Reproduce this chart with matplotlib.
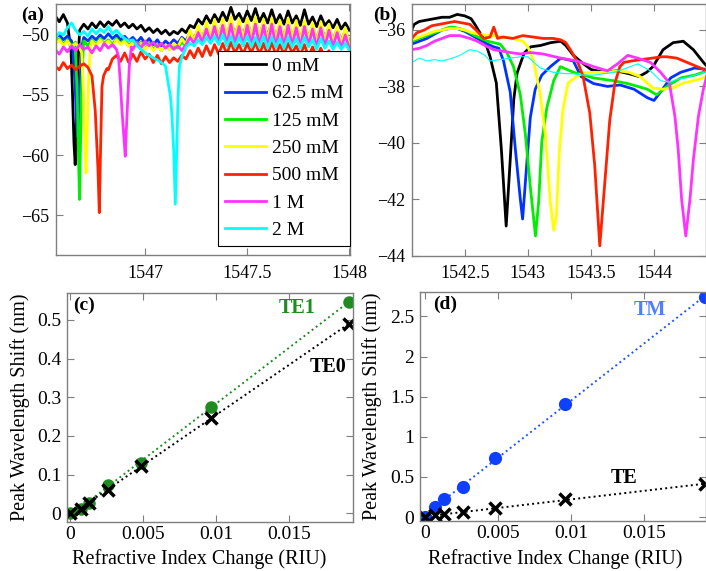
import numpy as np
import matplotlib
matplotlib.use('Agg')
import matplotlib.pyplot as plt

plt.rcParams['font.family'] = ['Liberation Serif', 'DejaVu Serif']

# ---------------- DATA ---------------- #
conc_labels = ['0 mM', '62.5 mM', '125 mM', '250 mM', '500 mM', '1 M', '2 M']
line_colors = ['#000000', '#0033ff', '#00ee00', '#ffff00', '#ff2200', '#ff33ff', '#00ffff']

# (a) TE0 spectra: baseline sampled every 0.02 nm, plus the resonance dip points
a_wl = np.linspace(1546.56, 1548.0, 73)
a_black = [-48.4, -48.9, -48.3, -49.0, -49.4, -49.5, -49.6, -49.1, -49.5, -49.0,
           -49.4, -48.9, -49.3, -48.9, -49.2, -48.8, -49.3, -49.0, -49.4, -49.1,
           -49.5, -49.2, -49.7, -49.4, -49.8, -49.5, -49.9, -49.6, -50.0, -49.7,
           -49.9, -49.5, -49.8, -49.2, -49.4, -48.7, -49.1, -48.4, -49.0, -48.3,
           -48.9, -48.1, -48.8, -47.7, -48.7, -48.2, -48.9, -48.0, -48.8, -47.8,
           -48.9, -48.2, -49.0, -47.9, -49.0, -48.3, -49.1, -48.0, -49.0, -48.4,
           -49.2, -47.9, -49.1, -48.5, -49.3, -48.4, -49.2, -48.8, -49.4, -48.7,
           -49.5, -49.0, -49.6]
a_blue = [-50.2, -50.0, -50.4, -50.1, -50.5, -50.3, -50.6, -50.2, -50.5, -50.1,
          -50.4, -50.0, -50.3, -49.9, -50.3, -50.0, -50.4, -50.1, -50.5, -50.2,
          -50.6, -50.2, -50.7, -50.3, -50.8, -50.4, -50.9, -50.5, -50.8, -50.4,
          -50.7, -50.2, -50.5, -49.8, -50.3, -49.5, -50.2, -49.3, -50.1, -49.2,
          -50.0, -49.0, -50.0, -48.9, -49.9, -49.1, -50.0, -48.9, -50.0, -49.0,
          -50.1, -49.0, -50.1, -48.9, -50.2, -49.1, -50.2, -49.0, -50.1, -49.2,
          -50.3, -49.1, -50.2, -49.3, -50.4, -49.2, -50.3, -49.4, -50.4, -49.5,
          -50.5, -49.6, -50.6]
a_green = [-50.6, -50.3, -50.8, -50.4, -50.9, -50.6, -51.0, -50.5, -50.9, -50.4,
           -50.8, -50.3, -50.7, -50.4, -50.8, -50.3, -50.7, -50.4, -50.9, -50.5,
           -50.9, -50.6, -51.1, -50.7, -51.2, -50.8, -51.3, -50.9, -51.2, -50.8,
           -51.1, -50.6, -50.9, -50.1, -50.6, -49.7, -50.5, -49.5, -50.4, -49.4,
           -50.4, -49.2, -50.3, -49.1, -50.3, -49.3, -50.4, -49.2, -50.3, -49.3,
           -50.4, -49.2, -50.5, -49.1, -50.5, -49.3, -50.5, -49.2, -50.4, -49.4,
           -50.6, -49.3, -50.5, -49.5, -50.7, -49.4, -50.6, -49.6, -50.7, -49.7,
           -50.8, -49.8, -50.9]
a_yellow = [-50.8, -50.4, -50.9, -50.5, -51.0, -50.7, -51.1, -50.6, -51.0, -50.5,
            -50.9, -50.4, -50.8, -50.5, -50.9, -50.4, -50.8, -50.5, -51.0, -50.6,
            -51.0, -50.7, -51.2, -50.8, -51.3, -50.9, -51.3, -50.9, -51.2, -50.7,
            -51.0, -50.3, -50.8, -49.6, -50.5, -49.2, -50.4, -48.9, -50.3, -48.7,
            -50.3, -48.6, -50.2, -48.5, -50.2, -48.7, -50.3, -48.6, -50.2, -48.5,
            -50.3, -48.7, -50.4, -48.6, -50.4, -48.8, -50.4, -48.6, -50.3, -48.8,
            -50.5, -48.8, -50.4, -49.0, -50.6, -48.9, -50.5, -49.1, -50.6, -49.3,
            -50.7, -49.4, -50.8]
a_red = [-52.6, -52.9, -52.3, -52.8, -52.5, -52.9, -52.6, -52.4, -52.7, -52.6,
         -52.6, -52.7, -53.5, -52.9, -52.0, -51.7, -52.2, -51.5, -52.3, -51.6,
         -52.2, -51.4, -52.0, -51.6, -52.3, -51.7, -52.4, -51.8, -52.3, -51.9,
         -52.2, -51.7, -52.0, -51.3, -51.9, -51.1, -51.8, -50.9, -51.7, -50.8,
         -51.6, -50.7, -51.6, -50.6, -51.5, -50.8, -51.6, -50.7, -51.5, -50.6,
         -51.6, -50.7, -51.7, -50.6, -51.7, -50.8, -51.6, -50.7, -51.5, -50.9,
         -51.7, -50.8, -51.8, -51.0, -51.9, -51.1, -52.0, -51.3, -52.1, -51.5,
         -52.4, -52.0, -52.8]
a_magenta = [-51.2, -51.6, -51.0, -51.4, -50.9, -51.3, -50.8, -51.2, -51.0, -51.5,
             -50.9, -51.3, -50.7, -51.1, -50.8, -51.2, -51.0, -51.4, -50.8, -51.2,
             -50.6, -51.1, -50.5, -50.9, -50.6, -51.0, -50.7, -51.1, -50.8, -51.2,
             -50.9, -51.3, -50.8, -50.2, -50.7, -49.8, -50.6, -49.5, -50.6, -49.3,
             -50.7, -49.2, -50.8, -49.1, -50.8, -49.3, -50.9, -49.2, -50.8, -49.1,
             -50.9, -49.2, -51.0, -49.1, -51.0, -49.3, -51.0, -49.2, -50.9, -49.4,
             -51.0, -49.3, -50.9, -49.5, -51.1, -49.4, -51.0, -49.6, -51.0, -49.8,
             -51.1, -50.0, -51.2]
a_cyan = [-50.3, -49.8, -50.0, -49.4, -49.0, -49.6, -50.0, -49.7, -50.1, -49.5,
          -49.9, -49.5, -49.8, -49.3, -49.9, -49.6, -50.0, -50.3, -50.5, -50.4,
          -50.9, -51.2, -51.5, -51.7, -51.9, -52.1, -52.3, -52.5, -52.5, -52.5,
          -51.0, -50.9, -51.0, -50.7, -50.9, -50.4, -50.8, -50.2, -50.7, -50.1,
          -50.8, -50.0, -50.9, -50.1, -51.0, -50.2, -50.9, -50.1, -51.0, -50.2,
          -51.0, -50.1, -51.1, -50.2, -51.0, -50.3, -51.1, -50.2, -51.0, -50.3,
          -51.1, -50.2, -51.0, -50.4, -51.2, -50.3, -51.1, -50.5, -51.2, -50.6,
          -51.2, -50.7, -51.3]

a_dip_black_x = [1546.638, 1546.645, 1546.652, 1546.658, 1546.664, 1546.670, 1546.678]
a_dip_black_y = [-51.5, -55.0, -59.0, -60.8, -57.0, -53.0, -50.2]
a_dip_blue_x = [1546.648, 1546.657, 1546.664, 1546.670, 1546.678, 1546.690]
a_dip_blue_y = [-51.5, -54.0, -57.0, -58.5, -55.0, -51.0]
a_dip_green_x = [1546.660, 1546.668, 1546.674, 1546.679, 1546.684, 1546.690, 1546.698]
a_dip_green_y = [-51.5, -55.0, -60.0, -63.7, -59.0, -54.0, -51.0]
a_dip_yellow_x = [1546.690, 1546.698, 1546.705, 1546.711, 1546.717, 1546.724, 1546.732]
a_dip_yellow_y = [-51.5, -54.5, -59.0, -61.5, -58.0, -53.5, -51.0]
a_dip_red_x = [1546.740, 1546.756, 1546.769, 1546.776, 1546.782, 1546.789, 1546.797, 1546.813]
a_dip_red_y = [-53.4, -56.3, -61.0, -64.8, -59.6, -54.3, -53.4, -52.8]
a_dip_magenta_x = [1546.870, 1546.879, 1546.887, 1546.895, 1546.903, 1546.908, 1546.915, 1546.923, 1546.933]
a_dip_magenta_y = [-51.8, -54.0, -56.3, -58.2, -60.1, -58.0, -55.4, -52.6, -51.0]
a_dip_cyan_x = [1547.100, 1547.116, 1547.124, 1547.132, 1547.140, 1547.148, 1547.155, 1547.161, 1547.168, 1547.181, 1547.197]
a_dip_cyan_y = [-52.6, -54.3, -55.1, -56.8, -59.6, -64.1, -59.6, -55.4, -52.6, -51.8, -51.2]

# (b) TM spectra
b_black_x = [1542.08, 1542.10, 1542.14, 1542.20, 1542.26, 1542.32, 1542.38, 1542.44, 1542.50, 1542.55,
             1542.58, 1542.62, 1542.66, 1542.70, 1542.75, 1542.79, 1542.828, 1542.86, 1542.888, 1542.914,
             1542.97, 1543.02, 1543.10, 1543.18, 1543.26, 1543.30, 1543.36, 1543.44, 1543.50, 1543.60,
             1543.70, 1543.80, 1543.88, 1543.94, 1543.99, 1544.07, 1544.15, 1544.23, 1544.31, 1544.39, 1544.42]
b_black_y = [-36.0, -35.8, -35.7, -35.65, -35.6, -35.55, -35.55, -35.45, -35.5, -35.6,
             -35.8, -36.1, -36.4, -36.94, -37.88, -40.24, -42.95, -40.6, -38.47, -37.53,
             -36.82, -36.6, -36.55, -36.45, -36.4, -36.55, -36.9, -37.2, -37.4, -37.5,
             -37.45, -37.55, -37.65, -37.5, -37.3, -36.7, -36.45, -36.4, -36.7, -37.15, -37.3]
b_blue_x = [1542.08, 1542.14, 1542.20, 1542.26, 1542.32, 1542.38, 1542.44, 1542.50, 1542.56, 1542.62,
            1542.68, 1542.73, 1542.77, 1542.807, 1542.86, 1542.90, 1542.94, 1542.958, 1542.99, 1543.019,
            1543.058, 1543.11, 1543.178, 1543.26, 1543.36, 1543.42, 1543.52, 1543.63, 1543.73, 1543.84,
            1543.945, 1543.998, 1544.05, 1544.13, 1544.21, 1544.32, 1544.42]
b_blue_y = [-36.5, -36.4, -36.3, -36.15, -36.0, -35.95, -35.95, -36.05, -36.2, -36.35,
            -36.5, -36.6, -36.65, -37.1, -38.2, -40.2, -42.0, -42.7, -40.8, -39.1,
            -38.1, -37.6, -37.3, -37.0, -37.1, -37.65, -37.9, -38.0, -37.95, -38.1,
            -38.4, -38.5, -38.2, -37.7, -37.5, -37.35, -37.4]
b_green_x = [1542.08, 1542.14, 1542.20, 1542.26, 1542.32, 1542.38, 1542.41, 1542.46, 1542.52, 1542.58,
             1542.63, 1542.68, 1542.73, 1542.78, 1542.833, 1542.886, 1542.94, 1542.98, 1543.02, 1543.06,
             1543.085, 1543.11, 1543.15, 1543.204, 1543.257, 1543.36, 1543.44, 1543.52, 1543.60, 1543.68,
             1543.79, 1543.87, 1543.945, 1544.02, 1544.10, 1544.21, 1544.32, 1544.42]
b_green_y = [-36.4, -36.3, -36.2, -36.1, -36.0, -35.9, -35.9, -35.95, -36.05, -36.2,
             -36.3, -36.4, -36.45, -36.5, -36.8, -37.3, -38.3, -39.7, -41.6, -43.3,
             -42.1, -39.95, -38.75, -37.8, -37.3, -37.5, -37.6, -37.7, -37.75, -37.8,
             -37.9, -38.0, -38.1, -38.3, -38.0, -37.7, -37.6, -37.45]
b_yellow_x = [1542.08, 1542.14, 1542.20, 1542.26, 1542.32, 1542.38, 1542.44, 1542.50, 1542.56, 1542.62,
              1542.68, 1542.73, 1542.80, 1542.88, 1542.96, 1543.00, 1543.045, 1543.098, 1543.138, 1543.177,
              1543.204, 1543.225, 1543.25, 1543.278, 1543.318, 1543.384, 1543.437, 1543.52, 1543.62, 1543.72,
              1543.80, 1543.886, 1543.99, 1544.07, 1544.15, 1544.23, 1544.31, 1544.39, 1544.42]
b_yellow_y = [-36.35, -36.25, -36.15, -36.05, -36.0, -35.95, -35.95, -36.0, -36.1, -36.15,
              -36.2, -36.2, -36.25, -36.3, -36.4, -36.6, -37.1, -38.3, -39.7, -42.07,
              -43.1, -42.6, -40.24, -38.8, -37.88, -37.65, -37.53, -37.5, -37.5, -37.45,
              -37.5, -37.65, -38.06, -38.1, -38.05, -37.88, -37.8, -37.7, -37.6]
b_red_x = [1542.08, 1542.12, 1542.18, 1542.24, 1542.30, 1542.36, 1542.42, 1542.48, 1542.54, 1542.60,
           1542.65, 1542.70, 1542.73, 1542.76, 1542.80, 1542.88, 1542.96, 1543.04, 1543.12, 1543.20,
           1543.26, 1543.30, 1543.35, 1543.40, 1543.437, 1543.49, 1543.529, 1543.569, 1543.609, 1543.648,
           1543.688, 1543.728, 1543.76, 1543.82, 1543.90, 1543.98, 1544.06, 1544.10, 1544.18, 1544.26,
           1544.34, 1544.42]
b_red_y = [-36.3, -36.1, -36.0, -35.85, -35.8, -35.75, -35.7, -35.75, -35.8, -36.05,
           -36.3, -36.25, -35.9, -36.3, -36.25, -36.3, -36.2, -36.25, -36.3, -36.3,
           -36.35, -36.45, -36.8, -37.2, -37.65, -38.95, -40.8, -43.65, -41.4, -39.2,
           -37.9, -37.3, -37.15, -37.1, -37.05, -37.0, -36.95, -36.95, -37.0, -37.15,
           -37.3, -37.45]
b_magenta_x = [1542.08, 1542.14, 1542.20, 1542.26, 1542.32, 1542.38, 1542.46, 1542.54, 1542.60, 1542.66,
               1542.73, 1542.80, 1542.86, 1542.94, 1543.02, 1543.12, 1543.26, 1543.39, 1543.52, 1543.63,
               1543.71, 1543.79, 1543.87, 1543.97, 1544.05, 1544.12, 1544.164, 1544.19, 1544.217, 1544.25,
               1544.283, 1544.31, 1544.35, 1544.389, 1544.415]
b_magenta_y = [-36.7, -36.65, -36.55, -36.4, -36.3, -36.2, -36.2, -36.3, -36.4, -36.55,
               -36.7, -36.75, -36.8, -36.85, -36.8, -36.85, -37.0, -37.1, -37.3, -37.45,
               -37.2, -36.9, -37.0, -37.15, -37.5, -37.88, -39.06, -40.24, -42.0, -43.3,
               -42.0, -40.6, -39.06, -38.1, -37.65]
b_cyan_x = [1542.08, 1542.14, 1542.20, 1542.26, 1542.32, 1542.40, 1542.46, 1542.54, 1542.60, 1542.66,
            1542.70, 1542.78, 1542.86, 1542.94, 1543.00, 1543.06, 1543.10, 1543.20, 1543.30, 1543.36,
            1543.44, 1543.52, 1543.60, 1543.68, 1543.78, 1543.87, 1543.97, 1544.05, 1544.12, 1544.18,
            1544.25, 1544.32, 1544.42]
b_cyan_y = [-37.15, -37.0, -37.1, -37.05, -37.1, -37.0, -36.9, -36.7, -36.75, -36.9,
            -37.1, -37.05, -37.0, -36.95, -36.95, -37.2, -37.35, -37.5, -37.55, -37.55,
            -37.6, -37.6, -37.55, -37.5, -37.35, -37.2, -37.45, -37.8, -37.85, -37.75,
            -37.7, -37.6, -37.47]

# (c), (d) peak shifts vs refractive index change
delta_n = [0.0, 0.0007, 0.0013, 0.0026, 0.0048, 0.0096, 0.0191]
te1_shift = [0.0, 0.012, 0.027, 0.074, 0.131, 0.275, 0.547]
te0_shift = [0.0, 0.012, 0.027, 0.059, 0.122, 0.247, 0.490]
tm_shift = [0.0, 0.13, 0.22, 0.38, 0.73, 1.41, 2.74]
te_shift = [0.0, 0.022, 0.035, 0.06, 0.11, 0.22, 0.41]

# ---------------- HELPERS ---------------- #
spine_gray = '#7f7f7f'


def with_dip(base_y, dip_x, dip_y):
    bx = np.asarray(a_wl)
    by = np.asarray(base_y)
    keep = (bx < dip_x[0]) | (bx > dip_x[-1])
    x = np.concatenate([bx[keep], dip_x])
    y = np.concatenate([by[keep], dip_y])
    order = np.argsort(x)
    return x[order], y[order]


def style(ax, size, pad):
    for s in ax.spines.values():
        s.set_color(spine_gray)
        s.set_linewidth(1.0)
    ax.tick_params(direction='in', top=True, right=True, length=5, width=0.8,
                   color=spine_gray, labelcolor='k', labelsize=size, pad=pad)


# ---------------- FIGURE ---------------- #
fig = plt.figure(figsize=(7.06, 5.71), dpi=100)
ax_a = fig.add_axes([56 / 706, 1 - 255 / 571, 294 / 706, 251 / 571])
ax_b = fig.add_axes([411.7 / 706, 1 - 255.7 / 571, 294.3 / 706, 251.7 / 571])
ax_c = fig.add_axes([66.7 / 706, 1 - 521.7 / 571, 286 / 706, 228.4 / 571])
ax_d = fig.add_axes([420 / 706, 1 - 520.7 / 571, 286 / 706, 228.4 / 571])

# (a)
a_bases = [a_black, a_blue, a_green, a_yellow, a_red, a_magenta, a_cyan]
a_dips = [(a_dip_black_x, a_dip_black_y), (a_dip_blue_x, a_dip_blue_y),
          (a_dip_green_x, a_dip_green_y), (a_dip_yellow_x, a_dip_yellow_y),
          (a_dip_red_x, a_dip_red_y), (a_dip_magenta_x, a_dip_magenta_y),
          (a_dip_cyan_x, a_dip_cyan_y)]
for base, (dx, dy), col, lab in zip(a_bases, a_dips, line_colors, conc_labels):
    x, y = with_dip(base, dx, dy)
    ax_a.plot(x, y, color=col, lw=2.0, label=lab)
ax_a.set_xlim(1546.564, 1548.003)
ax_a.set_ylim(-68.33, -47.42)
ax_a.set_xticks([1547, 1547.5, 1548], ['1547', '1547.5', '1548'])
ax_a.set_yticks([-65, -60, -55, -50], ['\u221265', '\u221260', '\u221255', '\u221250'])
style(ax_a, 13, 7)
ax_a.tick_params(axis='y', pad=5)
leg = ax_a.legend(loc='upper right', bbox_to_anchor=(1.0, 0.814), fontsize=14,
                  frameon=True, fancybox=False, edgecolor='k', framealpha=1,
                  borderaxespad=0, handlelength=2.1, handletextpad=0.3,
                  labelspacing=0.5, borderpad=0.35)
leg.get_frame().set_linewidth(0.8)
ax_a.text(-0.119, 0.956, '(a)', transform=ax_a.transAxes, fontsize=14,
          fontweight='bold', ha='left', va='center')

# (b)
b_curves = [(b_black_x, b_black_y), (b_blue_x, b_blue_y), (b_green_x, b_green_y),
            (b_yellow_x, b_yellow_y), (b_red_x, b_red_y), (b_magenta_x, b_magenta_y)]
for (x, y), col in zip(b_curves, line_colors[:6]):
    ax_b.plot(x, y, color=col, lw=2.0)
ax_b.plot(b_cyan_x, b_cyan_y, color=line_colors[6], lw=0.8)
ax_b.set_xlim(1542.08, 1544.41)
ax_b.set_ylim(-44, -35.08)
ax_b.set_xticks([1542.5, 1543, 1543.5, 1544], ['1542.5', '1543', '1543.5', '1544'])
ax_b.set_yticks([-44, -42, -40, -38, -36],
                ['\u221244', '\u221242', '\u221240', '\u221238', '\u221236'])
style(ax_b, 13, 7)
ax_b.tick_params(axis='y', pad=5)
ax_b.text(-0.132, 0.956, '(b)', transform=ax_b.transAxes, fontsize=14,
          fontweight='bold', ha='left', va='center')

# (c)
te_green = '#1f8c1f'
xs = np.array([min(delta_n), max(delta_n)])
fit1 = np.polyfit(delta_n, te1_shift, 1)
fit0 = np.polyfit(delta_n, te0_shift, 1)
ax_c.plot(xs, np.polyval(fit1, xs), ':', color=te_green, lw=1.4)
ax_c.plot(xs, np.polyval(fit0, xs), ':', color='k', lw=1.4)
ax_c.plot(delta_n, te1_shift, 'o', color=te_green, ms=9, mec='none')
ax_c.plot(delta_n, te0_shift, 'x', color='k', ms=8, mew=2.5)
ax_c.set_xlim(-0.00026, 0.01933)
ax_c.set_ylim(-0.022, 0.569)
ax_c.set_xticks([0, 0.005, 0.01, 0.015], ['0', '0.005', '0.01', '0.015'])
ax_c.set_yticks([0, 0.1, 0.2, 0.3, 0.4, 0.5], ['0', '0.1', '0.2', '0.3', '0.4', '0.5'])
style(ax_c, 14, 3)
ax_c.tick_params(axis='y', pad=4)
ax_c.set_xlabel('Refractive Index Change (RIU)', fontsize=14.5)
ax_c.set_ylabel('Peak Wavelength Shift (nm)', fontsize=14.5)
ax_c.xaxis.set_label_coords(0.464, -0.122)
ax_c.yaxis.set_label_coords(-0.130, 0.5)
ax_c.text(0.022, 0.949, '(c)', transform=ax_c.transAxes, fontsize=14,
          fontweight='bold', ha='left', va='center')
ax_c.text(0.807, 0.936, 'TE1', transform=ax_c.transAxes, fontsize=14.5,
          fontweight='bold', color=te_green, ha='center', va='center')
ax_c.text(0.915, 0.678, 'TE0', transform=ax_c.transAxes, fontsize=14.5,
          fontweight='bold', color='k', ha='center', va='center')

# (d)
tm_blue = '#1040ff'
tm_line = '#2255ff'
fit_tm = np.polyfit(delta_n, tm_shift, 1)
fit_te = np.polyfit(delta_n, te_shift, 1)
ax_d.plot(xs, np.polyval(fit_tm, xs), ':', color=tm_line, lw=1.4)
ax_d.plot(xs, np.polyval(fit_te, xs), ':', color='k', lw=1.4)
ax_d.plot(delta_n, tm_shift, 'o', color=tm_blue, ms=9.5, mec='none')
ax_d.plot(delta_n, te_shift, 'x', color='k', ms=8, mew=2.5)
ax_d.set_xlim(-0.00032, 0.0192)
ax_d.set_ylim(-0.046, 2.80)
ax_d.set_xticks([0, 0.005, 0.01, 0.015], ['0', '0.005', '0.01', '0.015'])
ax_d.set_yticks([0, 0.5, 1, 1.5, 2, 2.5], ['0', '0.5', '1', '1.5', '2', '2.5'])
style(ax_d, 14, 3)
ax_d.tick_params(axis='y', pad=4)
ax_d.set_xlabel('Refractive Index Change (RIU)', fontsize=14.5)
ax_d.set_ylabel('Peak Wavelength Shift (nm)', fontsize=14.5)
ax_d.xaxis.set_label_coords(0.472, -0.125)
ax_d.yaxis.set_label_coords(-0.134, 0.5)
ax_d.text(0.045, 0.949, '(d)', transform=ax_d.transAxes, fontsize=14,
          fontweight='bold', ha='left', va='center')
ax_d.text(0.804, 0.922, 'TM', transform=ax_d.transAxes, fontsize=14.5,
          fontweight='bold', color='#4d7fff', ha='center', va='center')
ax_d.text(0.712, 0.187, 'TE', transform=ax_d.transAxes, fontsize=14.5,
          fontweight='bold', color='k', ha='center', va='center')

fig.savefig('out.png', dpi=100)
